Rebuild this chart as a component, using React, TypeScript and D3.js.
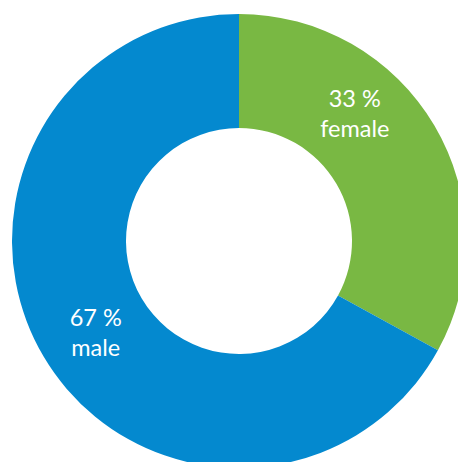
import React from "react";
import * as d3 from "d3";

const categories = ["female", "male"];
const values = [33, 67];
const colors = ["#79b843", "#0489cf"];
// label placement (polar, degrees clockwise from top)
const labelAngles = [42.6, 236.9];
const labelRadius = 171;

const W = 458;
const H = 462;
const cx = 239;
const cy = 241;
const outerR = 227;
const innerR = 113;

export default function App() {
  const pie = d3.pie<number>().sort(null).value((d) => d);
  const arcs = pie(values);
  const arc = d3.arc<d3.PieArcDatum<number>>().innerRadius(innerR).outerRadius(outerR);
  return (
    <svg width={W} height={H} style={{ position: "absolute", left: 0, top: 0 }}>
      <g transform={`translate(${cx},${cy})`}>
        {arcs.map((a, i) => (
          <path key={i} d={arc(a) || ""} fill={colors[i]} />
        ))}
        {arcs.map((a, i) => {
          const ang = (labelAngles[i] * Math.PI) / 180;
          const x = labelRadius * Math.sin(ang);
          const y = -labelRadius * Math.cos(ang);
          return (
            <text
              key={"t" + i}
              x={x}
              y={y}
              fill="#fff"
              fontFamily="Lato, sans-serif"
              fontWeight={400}
              fontSize={23.5}
              textAnchor="middle"
            >
              <tspan x={x} dy={-8}>{`${values[i]} %`}</tspan>
              <tspan x={x} dy={30}>{categories[i]}</tspan>
            </text>
          );
        })}
      </g>
    </svg>
  );
}
